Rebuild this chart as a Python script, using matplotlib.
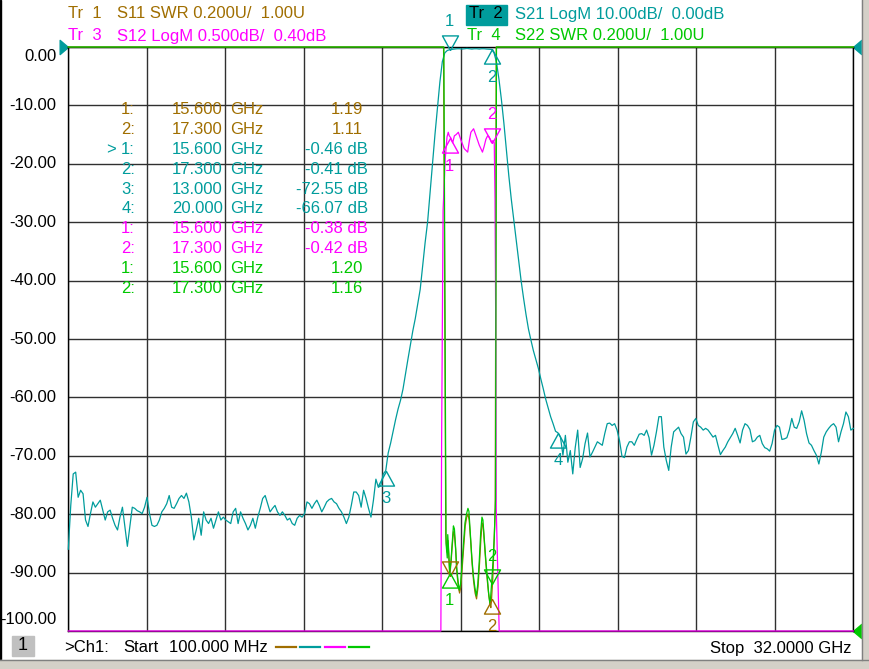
import numpy as np
import matplotlib
matplotlib.use('Agg')
import matplotlib.pyplot as plt
from matplotlib.patches import Rectangle

plt.rcParams['font.family'] = ['Liberation Sans', 'DejaVu Sans']

BROWN = '#a06e00'
TEAL = '#009c9c'
MAGENTA = '#ff00ff'
GREEN = '#00c800'
GRID = '#303030'
FS = 12

W, H = 870, 669

# sweep: 0.1 GHz .. 32.0 GHz, 0.1 GHz step
f_start, f_stop = 0.1, 32.0
freq = np.round(np.linspace(f_start, f_stop, 320), 2)

# S21 LogM (dB)
s21_low = [
    -86.0, -78.5, -73.1, -72.8, -77.1, -75.9, -76.5, -81.0, -82.1, -79.9,
    -77.9, -78.8, -78.2, -77.6, -79.3, -81.0, -79.6, -79.3, -80.7, -81.9,
    -82.7, -80.5, -78.8, -82.1, -85.5, -82.1, -78.8, -79.0, -79.4, -79.6,
    -79.9, -78.8, -77.1, -79.9, -81.9, -82.1, -81.9, -81.0, -79.6, -79.0,
    -78.2, -76.8, -78.8, -79.0, -78.2, -77.3, -76.8, -77.3, -76.4, -77.9,
    -80.5, -84.4, -82.7, -80.7, -83.6, -79.6, -81.0, -81.6, -80.7, -82.4,
    -81.0, -79.6, -81.0, -80.5, -81.0, -81.3, -81.6, -79.6, -79.0, -81.6,
    -79.6, -80.7, -81.6, -82.7, -81.9, -80.7, -82.4, -80.5, -79.0, -77.3,
    -76.8, -78.2, -79.6, -79.0, -78.5, -79.6, -80.2, -79.6, -80.2, -81.0,
    -80.7, -81.6, -81.9, -80.7, -80.2, -80.5, -79.9, -77.9, -78.2, -79.0,
    -78.2, -77.6, -78.5, -79.6, -78.8, -77.9, -77.5, -77.3, -77.9, -78.2,
    -79.0, -79.6, -80.5, -81.6, -80.5, -78.5, -76.2, -76.2, -76.8, -78.8,
    -75.9, -77.3, -79.0, -80.5, -77.6,
]
s21_band = [
    -74.0, -75.4, -75.1, -73.1, -72.55, -69.5, -67.8, -65.8, -63.8, -62.0,
    -60.5, -58.6, -56.0, -53.5, -51.0, -48.6, -46.5, -44.0, -41.5, -37.5,
    -33.5, -30.0, -25.0, -20.0, -15.0, -10.5, -6.0, -2.5, -1.0, -0.6,
    -0.46, -0.40, -0.35, -0.30, -0.30, -0.35, -0.30, -0.25, -0.30, -0.35,
    -0.30, -0.30, -0.35, -0.30, -0.30, -0.35, -0.38, -0.41, -1.0, -2.6,
    -5.5, -9.0, -13.0, -17.5, -22.0, -26.0, -29.5, -33.0, -36.5, -40.0,
    -43.0, -45.8, -48.3, -50.2, -52.0, -53.5, -55.0, -56.8, -58.5, -60.3,
    -61.8, -63.3, -64.5, -65.8, -66.07,
]
s21_high = [
    -66.8, -69.9, -66.5, -71.1, -69.1, -73.1, -68.6, -65.6, -72.0, -70.5,
    -67.9, -66.1, -70.2, -69.4, -68.5, -67.6, -67.9, -68.2, -66.2, -64.5,
    -64.4, -64.8, -64.5, -65.6, -67.4, -70.1, -70.3, -68.5, -67.6, -67.6,
    -68.2, -67.2, -66.3, -66.2, -66.5, -65.6, -66.9, -69.9, -68.2, -65.9,
    -63.3, -63.3, -68.5, -70.8, -72.5, -68.5, -65.9, -65.5, -65.1, -66.2,
    -66.8, -69.7, -69.1, -66.8, -64.2, -63.6, -64.8, -65.1, -65.6, -65.3,
    -65.6, -66.2, -66.8, -66.5, -68.2, -69.8, -69.1, -68.5, -67.6, -66.9,
    -66.2, -65.3, -66.5, -67.8, -65.6, -64.5, -64.8, -65.5, -67.6, -67.4,
    -66.8, -66.5, -67.9, -68.6, -68.8, -69.2, -67.9, -65.6, -64.8, -65.1,
    -67.2, -67.1, -66.9, -65.6, -63.6, -65.1, -65.3, -64.2, -62.3, -63.9,
    -66.2, -67.8, -68.2, -69.1, -69.9, -71.4, -69.4, -66.8, -65.9, -65.3,
    -64.8, -64.5, -65.1, -67.6, -65.9, -64.5, -62.5, -63.3, -65.6, -65.3,
]
s21_db = np.array(s21_low + s21_band + s21_high)

# S11 SWR (passband detail, off-screen high outside)
s11_f = [0.1, 15.35, 15.44, 15.49, 15.53, 15.57, 15.60, 15.65, 15.70, 15.75,
         15.79, 15.84, 15.89, 15.95, 16.00, 16.05, 16.11, 16.17, 16.23, 16.29,
         16.34, 16.39, 16.45, 16.51, 16.57, 16.63, 16.69, 16.75, 16.81, 16.87,
         16.92, 16.96, 17.01, 17.07, 17.13, 17.19, 17.24, 17.27, 17.30, 17.35,
         17.40, 17.45, 17.49, 32.0]
s11_swr = [3.5, 3.5, 1.33, 1.27, 1.31, 1.24, 1.19, 1.23, 1.29, 1.34,
           1.33, 1.28, 1.20, 1.15, 1.13, 1.15, 1.22, 1.29, 1.36, 1.39,
           1.40, 1.38, 1.31, 1.23, 1.17, 1.13, 1.11, 1.15, 1.23, 1.32,
           1.37, 1.36, 1.30, 1.23, 1.17, 1.12, 1.09, 1.08, 1.11, 1.18,
           1.30, 1.42, 3.5, 3.5]

# S22 SWR
s22_f = [0.1, 15.36, 15.45, 15.50, 15.52, 15.56, 15.60, 15.65, 15.70, 15.75,
         15.79, 15.83, 15.88, 15.94, 15.99, 16.04, 16.10, 16.16, 16.22, 16.28,
         16.34, 16.38, 16.44, 16.50, 16.56, 16.62, 16.68, 16.74, 16.80, 16.86,
         16.91, 16.95, 17.00, 17.06, 17.12, 17.18, 17.24, 17.30, 17.36, 17.41,
         17.46, 17.50, 32.0]
s22_swr = [3.5, 3.5, 1.30, 1.25, 1.33, 1.27, 1.20, 1.24, 1.30, 1.36,
           1.35, 1.30, 1.22, 1.17, 1.14, 1.16, 1.23, 1.30, 1.37, 1.40,
           1.42, 1.41, 1.33, 1.25, 1.19, 1.15, 1.12, 1.16, 1.24, 1.34,
           1.39, 1.38, 1.32, 1.25, 1.19, 1.13, 1.09, 1.16, 1.24, 1.32,
           1.45, 3.5, 3.5]

# S12 LogM (dB)
s12_f = [0.1, 15.24, 15.27, 15.33, 15.42, 15.49, 15.54, 15.58, 15.65, 15.72,
         15.79, 15.86, 15.95, 16.06, 16.19, 16.33, 16.40, 16.46, 16.57, 16.67,
         16.80, 16.93, 17.00, 17.07, 17.14, 17.20, 17.30, 17.36, 17.41, 17.44,
         17.47, 17.49, 17.61, 32.0]
s12_db = [-20.0, -20.0, -3.0, -1.0, -0.55, -0.37, -0.33, -0.36, -0.38, -0.42,
          -0.36, -0.35, -0.33, -0.40, -0.47, -0.50, -0.40, -0.33, -0.30, -0.36,
          -0.44, -0.50, -0.45, -0.39, -0.36, -0.37, -0.42, -0.40, -0.42, -0.9,
          -2.0, -3.55, -20.0, -20.0]


def swr_scr(v):
    # 0.200U/div, 1.00U at bottom
    return np.clip(-100 + (np.asarray(v) - 1.0) / 0.2 * 10, -100, 0)


def s12_scr(v):
    # 0.500dB/div, 0.40dB at top
    return np.clip((np.asarray(v) - 0.40) / 0.5 * 10, -100, 0)


def s21_scr(v):
    return np.clip(np.asarray(v), -100, 0)


fig = plt.figure(figsize=(W / 100, H / 100), dpi=100)
fig.patch.set_facecolor('white')
ax = fig.add_axes([68.3 / W, 38 / H, 785 / W, 584 / H])
ax.set_xlim(f_start, f_stop)
ax.set_ylim(-100, 0)
ax.set_xticks(np.linspace(f_start, f_stop, 11))
ax.set_yticks(np.arange(-100, 1, 10))
ax.grid(True, color=GRID, lw=1.0)
ax.tick_params(length=0, labelbottom=False, labelleft=False)
for sp in ax.spines.values():
    sp.set_color('black')
    sp.set_linewidth(1.0)

lw = 0.9
ax.plot(s11_f, swr_scr(s11_swr), color=BROWN, lw=lw, clip_on=False, zorder=3)
ax.plot(freq, s21_scr(s21_db), color=TEAL, lw=lw, clip_on=False, zorder=4)
ax.plot(s12_f, s12_scr(s12_db), color=MAGENTA, lw=lw, clip_on=False, zorder=5)
ax.plot(s22_f, swr_scr(s22_swr), color=GREEN, lw=lw, clip_on=False, zorder=6)

# y labels
ylabels = [f'{v:.2f}' for v in np.arange(0, -101, -10)]
for i, lab in enumerate(ylabels):
    y = -10 * i
    if i == 0:
        y -= 1.7
    elif i == 10:
        y += 1.9
    ax.text(-12 / 785, y, lab, transform=ax.get_yaxis_transform(),
            ha='right', va='center', fontsize=FS, color='black')

# markers: (color, freq, screen value, pointing down, label, show label)
marker_rows = [
    (BROWN, 15.6, swr_scr(1.19), True, '1', False),
    (BROWN, 17.3, swr_scr(1.11), False, '2', True),
    (TEAL, 15.6, s21_scr(-0.46), True, '1', True),
    (TEAL, 17.3, s21_scr(-0.41), False, '2', True),
    (TEAL, 13.0, s21_scr(-72.55), False, '3', True),
    (TEAL, 20.0, s21_scr(-66.07), False, '4', True),
    (MAGENTA, 15.6, s12_scr(-0.38), False, '1', True),
    (MAGENTA, 17.3, s12_scr(-0.42), True, '2', True),
    (GREEN, 15.6, swr_scr(1.20), False, '1', True),
    (GREEN, 17.3, swr_scr(1.16), True, '2', True),
]
tri_down = [(0, 0), (-0.55, 1), (0.55, 1), (0, 0)]
tri_up = [(0, 0), (-0.55, -1), (0.55, -1), (0, 0)]
for c, fx, yv, down, lab, show in marker_rows:
    ax.plot([fx], [yv], marker=tri_down if down else tri_up, ms=21,
            mfc='none', mec=c, mew=1.0, clip_on=False, zorder=8)
    if show:
        ax.annotate(lab, (fx, yv), xytext=(0, 28 if down else -28),
                    textcoords='offset pixels', ha='center', va='center',
                    fontsize=FS, color=c, zorder=9, annotation_clip=False)

# reference position arrows
ax.plot([0], [1], marker=[(0, 0), (-1, 0.85), (-1, -0.85), (0, 0)], ms=12,
        color=TEAL, transform=ax.transAxes, clip_on=False)
ax.plot([1], [1], marker=[(0, 0), (1, 0.85), (1, -0.85), (0, 0)], ms=12,
        color=TEAL, transform=ax.transAxes, clip_on=False)
ax.plot([1], [0], marker=[(0, 0), (1, 0.85), (1, -0.85), (0, 0)], ms=12,
        color=GREEN, transform=ax.transAxes, clip_on=False)


def ftext(x, y, s, **kw):
    kw.setdefault('fontsize', FS)
    kw.setdefault('va', 'center')
    fig.text(x / W, 1 - y / H, s, **kw)


# header
fig.patches.append(Rectangle((466 / W, 1 - 25 / H), 41 / W, 20 / H,
                             transform=fig.transFigure, color=TEAL))
ftext(68, 14, 'Tr  1', color=BROWN)
ftext(117, 14, 'S11 SWR 0.200U/  1.00U', color=BROWN)
ftext(68, 36, 'Tr  3', color=MAGENTA)
ftext(117, 36, 'S12 LogM 0.500dB/  0.40dB', color=MAGENTA)
ftext(469, 14, 'Tr  2', color='black')
ftext(515, 14, 'S21 LogM 10.00dB/  0.00dB', color=TEAL)
ftext(467, 36, 'Tr  4', color=GREEN)
ftext(515, 36, 'S22 SWR 0.200U/  1.00U', color=GREEN)

# marker table
tbl_color = [BROWN, BROWN, TEAL, TEAL, TEAL, TEAL, MAGENTA, MAGENTA, GREEN, GREEN]
tbl_num = ['1:', '2:', '1:', '2:', '3:', '4:', '1:', '2:', '1:', '2:']
tbl_freq = ['15.600', '17.300', '15.600', '17.300', '13.000', '20.000',
            '15.600', '17.300', '15.600', '17.300']
tbl_val = ['1.19', '1.11', '-0.46 dB', '-0.41 dB', '-72.55 dB', '-66.07 dB',
           '-0.38 dB', '-0.42 dB', '1.20', '1.16']
for i in range(len(tbl_num)):
    y = 110 + 19.8 * i
    c = tbl_color[i]
    ftext(135, y, tbl_num[i], color=c, ha='right')
    if i == 2:
        ftext(106, y, '>', color=c)
    ftext(223, y, tbl_freq[i], color=c, ha='right')
    ftext(230, y, 'GHz', color=c)
    xr = 368 if 'dB' in tbl_val[i] else 363
    ftext(xr, y, tbl_val[i], color=c, ha='right')

# footer
fig.patches.append(Rectangle((12 / W, 1 - 656 / H), 22 / W, 20 / H,
                             transform=fig.transFigure, color='#c0c0c0'))
ftext(23, 646, '1', color='black', ha='center', fontsize=13)
ftext(64, 648, '>Ch1:', color='black')
ftext(123, 648, 'Start', color='black')
ftext(169, 648, '100.000 MHz', color='black')
for c, x0 in zip([BROWN, TEAL, MAGENTA, GREEN], [276, 300, 325, 349]):
    fig.add_artist(plt.Line2D([x0 / W, (x0 + 20) / W], [1 - 647 / H] * 2,
                              color=c, lw=1.6))
ftext(852, 648, 'Stop  32.0000 GHz', color='black', ha='right')

# window frame
fig.patches.append(Rectangle((0, 0), 1.5 / W, 1, transform=fig.transFigure,
                             color='black'))
fig.patches.append(Rectangle((862 / W, 0), 8 / W, 1, transform=fig.transFigure,
                             color='#d4d0c8'))
fig.patches.append(Rectangle((0, 0), 1, 9 / H, transform=fig.transFigure,
                             color='#d4d0c8'))
fig.add_artist(plt.Line2D([0, 1], [9 / H] * 2, color='#808080', lw=1))
fig.add_artist(plt.Line2D([862 / W] * 2, [9 / H, 1], color='#808080', lw=1))

fig.savefig('out.png', dpi=100)
